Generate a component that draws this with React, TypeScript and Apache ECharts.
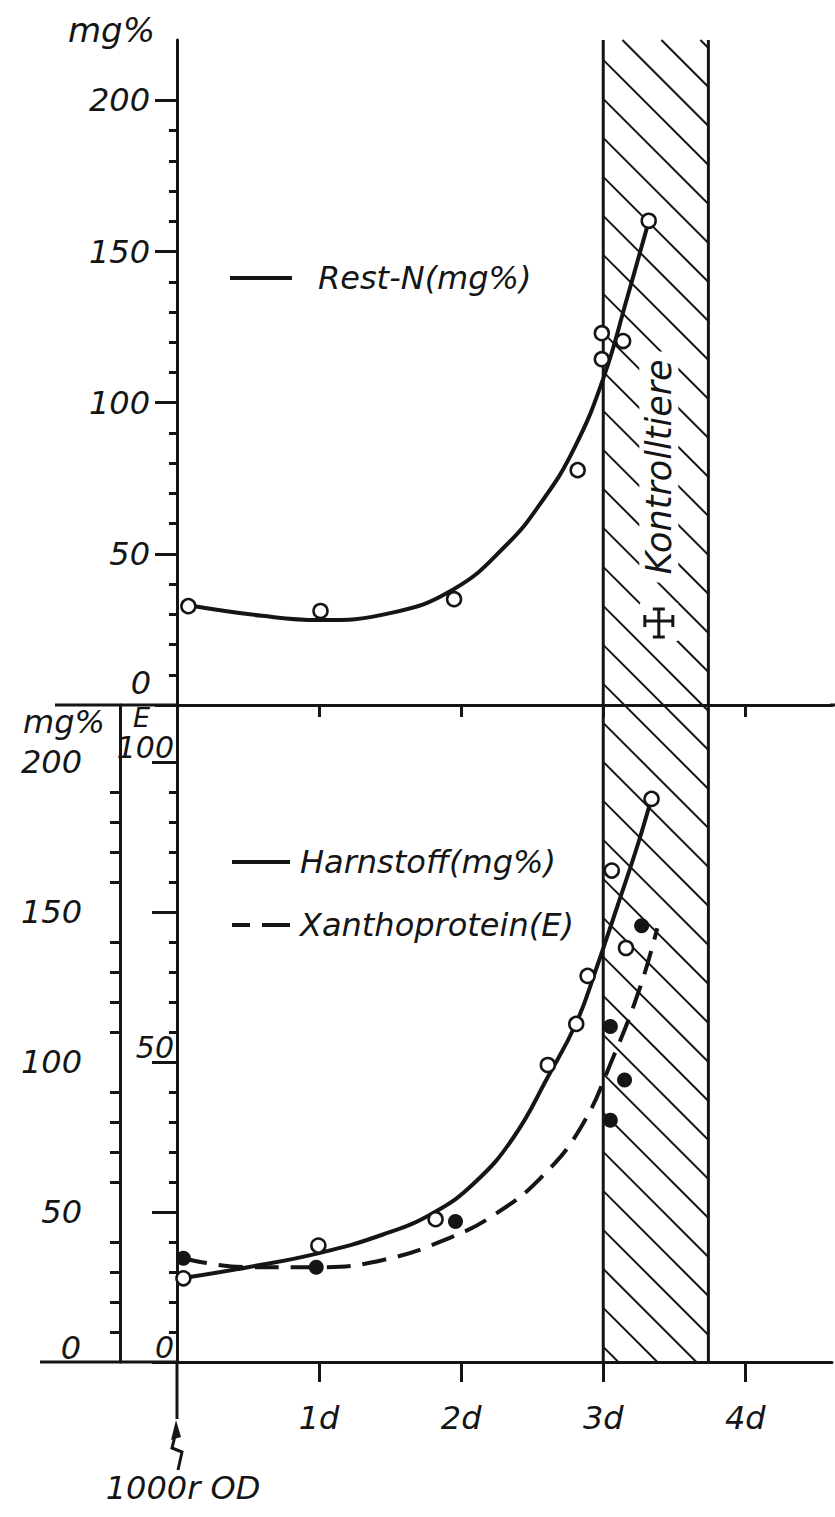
import React, { useEffect, useRef } from "react";
import * as echarts from "echarts";

// ---------- data ----------
const DAY_TICKS = [1, 2, 3, 4];
const MG_MAJOR = [0, 50, 100, 150, 200];
const MG_LABELS = [50, 100, 150, 200];
const ZERO_LABEL = "0";
const MG_MINOR = [10, 20, 30, 40, 60, 70, 80, 90, 110, 120, 130, 140, 160, 170, 180, 190];
const E_MAJOR = [0, 50, 100];
const E_MINOR = [5, 10, 15, 20, 25, 30, 35, 40, 45, 55, 60, 65, 70, 75, 80, 85, 90, 95];

// Rest-N (mg%) – measured points (open circles)
const restNPtsX = [0.08, 1.01, 1.95, 2.82, 2.99, 2.99, 3.14, 3.32];
const restNPtsY = [32.7, 31.1, 35, 77.7, 123, 114.4, 120.4, 160.2];
// Rest-N – drawn curve
const restNCurveX = [0.08, 0.6, 1.0, 1.5, 1.95, 2.32, 2.56, 2.79, 3.0, 3.17, 3.32];
const restNCurveY = [33, 29.5, 28.1, 30.4, 38.4, 53, 66.8, 84.4, 108, 135, 160];

// Harnstoff (mg%) – open circles
const harnPtsX = [0.045, 0.995, 1.82, 2.61, 2.81, 2.89, 3.06, 3.16, 3.34];
const harnPtsY = [27.9, 38.8, 47.6, 99, 112.7, 128.7, 163.8, 138, 187.7];
// Harnstoff – drawn curve
const harnCurveX = [0.045, 0.5, 1.0, 1.45, 1.8, 2.1, 2.37, 2.61, 2.81, 2.95, 3.1, 3.24, 3.34];
const harnCurveY = [28, 31.6, 36.3, 42.5, 49.6, 60, 75, 95, 113, 131, 152, 172, 188];

// Xanthoprotein (E) – filled circles
const xanPtsX = [0.045, 0.98, 1.96, 3.05, 3.27, 3.15, 3.05];
const xanPtsY = [17.3, 15.8, 23.4, 55.9, 72.7, 47, 40.3];
// Xanthoprotein – dashed curve
const xanCurveX = [0.045, 0.5, 1.0, 1.45, 1.92, 2.25, 2.56, 2.84, 3.07, 3.26, 3.38];
const xanCurveY = [17.3, 15.8, 15.8, 17.0, 20.7, 24.8, 30.7, 39, 50.8, 62.5, 72.3];

// control-animal band (days)
const HATCH_START = 3;
const HATCH_END = 3.74;

const X_MAX = 4.61;
const TOP_Y_MAX = 220;
const MG_Y_MAX = 219;
const E_Y_MAX = 109.5;

// ---------- style ----------
const INK = "#151515";
const FONT = "DejaVu Sans";
const txt = (size: number) => ({
  color: INK,
  fontFamily: FONT,
  fontStyle: "italic" as const,
  fontSize: size,
});

const pairs = (xs: number[], ys: number[]) => xs.map((x, i) => [x, ys[i]]);

function buildOption(): any {
  const axisLineStyle = { color: INK, width: 3 };
  const tickStyle = { color: INK, width: 3 };

  const xAxisBase = (gridIndex: number, tickLen: number, showLabels: boolean) => ({
    type: "value",
    gridIndex,
    min: 0,
    max: X_MAX,
    axisLine: { show: true, onZero: false, lineStyle: axisLineStyle },
    axisTick: { show: true, customValues: DAY_TICKS, length: tickLen, inside: false, lineStyle: tickStyle },
    axisLabel: showLabels
      ? { show: true, customValues: DAY_TICKS, formatter: (v: number) => `${v}d`, margin: 40, ...txt(32) }
      : { show: false },
    splitLine: { show: false },
  });

  const curve = (name: string, xi: number, yi: number, xs: number[], ys: number[], dashed: boolean) => ({
    name,
    type: "line",
    xAxisIndex: xi,
    yAxisIndex: yi,
    data: pairs(xs, ys),
    smooth: 0.45,
    showSymbol: false,
    symbol: "none",
    lineStyle: { color: INK, width: 4, type: dashed ? [24, 12] : "solid" },
    itemStyle: { color: INK },
    z: 3,
  });

  const dots = (name: string, xi: number, yi: number, xs: number[], ys: number[], filled: boolean) => ({
    name,
    type: "scatter",
    xAxisIndex: xi,
    yAxisIndex: yi,
    data: pairs(xs, ys),
    symbol: "circle",
    symbolSize: filled ? 15 : 14,
    itemStyle: filled
      ? { color: INK, opacity: 1 }
      : { color: "#ffffff", borderColor: INK, borderWidth: 2.5, opacity: 1 },
    z: 5,
  });

  return {
    animation: false,
    backgroundColor: "#ffffff",
    color: [INK],
    grid: [
      { left: 177, right: 3, top: 40, height: 665 },
      { left: 177, right: 3, top: 705, height: 657 },
    ],
    xAxis: [xAxisBase(0, 12, false), xAxisBase(1, 20, true)],
    yAxis: [
      // top panel: minor ticks + axis line + name
      {
        type: "value",
        gridIndex: 0,
        min: 0,
        max: TOP_Y_MAX,
        position: "left",
        name: "mg%",
        nameLocation: "end",
        nameGap: 10,
        nameTextStyle: { ...txt(34), align: "right", verticalAlign: "middle", padding: [0, 22, 0, 0] },
        axisLine: { show: true, onZero: false, lineStyle: axisLineStyle },
        axisTick: { show: true, customValues: MG_MINOR, length: 8, lineStyle: tickStyle },
        axisLabel: { show: false },
        splitLine: { show: false },
      },
      // top panel: major ticks + labels
      {
        type: "value",
        gridIndex: 0,
        min: 0,
        max: TOP_Y_MAX,
        position: "left",
        axisLine: { show: false },
        axisTick: { show: true, customValues: MG_MAJOR, length: 22, lineStyle: tickStyle },
        axisLabel: { show: true, customValues: MG_LABELS, margin: 27, ...txt(32) },
        splitLine: { show: false },
      },
      // bottom panel mg%: minor
      {
        type: "value",
        gridIndex: 1,
        min: 0,
        max: MG_Y_MAX,
        position: "left",
        offset: 57,
        name: "mg%",
        nameLocation: "end",
        nameGap: -17,
        nameTextStyle: { ...txt(32), align: "right", verticalAlign: "middle", padding: [0, 15, 0, 0] },
        axisLine: { show: true, onZero: false, lineStyle: axisLineStyle },
        axisTick: { show: true, customValues: MG_MINOR, length: 10, lineStyle: tickStyle },
        axisLabel: { show: false },
        splitLine: { show: false },
      },
      // bottom panel mg%: major
      {
        type: "value",
        gridIndex: 1,
        min: 0,
        max: MG_Y_MAX,
        position: "left",
        offset: 57,
        axisLine: { show: false },
        axisTick: { show: true, customValues: MG_MAJOR, length: 25, lineStyle: tickStyle },
        axisLabel: { show: true, customValues: MG_LABELS, margin: 38, ...txt(32) },
        splitLine: { show: false },
      },
      // bottom panel E: minor
      {
        type: "value",
        gridIndex: 1,
        min: 0,
        max: E_Y_MAX,
        position: "left",
        name: "E",
        nameLocation: "end",
        nameGap: -12,
        nameTextStyle: { ...txt(27), align: "right", verticalAlign: "middle", padding: [0, 27, 0, 0] },
        axisLine: { show: true, onZero: false, lineStyle: axisLineStyle },
        axisTick: { show: true, customValues: E_MINOR, length: 8, lineStyle: tickStyle },
        axisLabel: { show: false },
        splitLine: { show: false },
      },
      // bottom panel E: major
      {
        type: "value",
        gridIndex: 1,
        min: 0,
        max: E_Y_MAX,
        position: "left",
        axisLine: { show: false },
        axisTick: { show: true, customValues: E_MAJOR, length: 22, lineStyle: tickStyle },
        axisLabel: {
          show: true,
          customValues: E_MAJOR,
          margin: 3,
          verticalAlign: "bottom",
          ...txt(30),
        },
        splitLine: { show: false },
      },
    ],
    legend: [
      {
        data: [{ name: "Rest-N(mg%)", icon: "path://M0 0H62V4H0Z", itemStyle: { color: INK } }],
        left: 230,
        top: 262,
        padding: 0,
        itemWidth: 62,
        itemHeight: 4,
        selectedMode: false,
        textStyle: { ...txt(32), padding: [0, 0, 0, 21] },
      },
      {
        data: [
          { name: "Harnstoff(mg%)", icon: "path://M0 0H58V4H0Z", itemStyle: { color: INK } },
          { name: "Xanthoprotein(E)", icon: "path://M0 0H18V4H0Z M30 0H58V4H30Z", itemStyle: { color: INK } },
        ],
        orient: "vertical",
        left: 232,
        top: 846,
        padding: 0,
        itemGap: 31,
        itemWidth: 58,
        itemHeight: 4,
        selectedMode: false,
        textStyle: { ...txt(32), padding: [0, 0, 0, 5] },
      },
    ],
    series: [
      curve("Rest-N(mg%)", 0, 0, restNCurveX, restNCurveY, false),
      dots("Rest-N Messwerte", 0, 0, restNPtsX, restNPtsY, false),
      curve("Harnstoff(mg%)", 1, 2, harnCurveX, harnCurveY, false),
      dots("Harnstoff Messwerte", 1, 2, harnPtsX, harnPtsY, false),
      curve("Xanthoprotein(E)", 1, 4, xanCurveX, xanCurveY, true),
      dots("Xanthoprotein Messwerte", 1, 4, xanPtsX, xanPtsY, true),
    ],
  };
}

function buildGraphics(chart: any): any[] {
  const px = (v: number) => chart.convertToPixel({ xAxisIndex: 1 }, v) as number;
  const x0 = px(0);
  const x3 = px(HATCH_START);
  const xR = px(HATCH_END);
  const yTop = chart.convertToPixel({ yAxisIndex: 0 }, TOP_Y_MAX) as number;
  const yMid = chart.convertToPixel({ yAxisIndex: 0 }, 0) as number;
  const yBot = chart.convertToPixel({ yAxisIndex: 2 }, 0) as number;

  const line = (x1: number, y1: number, x2: number, y2: number, w = 3, z = 10) => ({
    type: "line",
    shape: { x1, y1, x2, y2 },
    style: { stroke: INK, lineWidth: w, lineCap: "butt" },
    z,
    silent: true,
  });

  const label = (text: string, x: number, y: number, size: number, align: string) => ({
    type: "text",
    x,
    y,
    z: 6,
    style: {
      text,
      fill: INK,
      font: `italic ${size}px '${FONT}'`,
      align,
      verticalAlign: "middle",
    },
  });

  const els: any[] = [];

  // hatch lines (45°, 39 px vertical spacing)
  const slope = 1;
  const step = 39;
  const w = xR - x3;
  for (let c = yTop - w * slope + 8; c < yBot; c += step) {
    const xa = Math.max(x3, x3 + (yTop - c) / slope);
    const xb = Math.min(xR, x3 + (yBot - c) / slope);
    if (xb - xa > 1) {
      els.push(line(xa, c + (xa - x3) * slope, xb, c + (xb - x3) * slope, 2, 1));
    }
  }

  // band borders
  els.push(line(x3, yTop, x3, yBot, 3, 2));
  els.push(line(xR, yTop, xR, yBot, 3, 2));

  // x-axis extensions
  els.push(line(55, yMid, x0, yMid, 3, 2));
  els.push(line(830, yMid, 835, yMid, 3, 2));
  els.push(line(40, yBot, x0, yBot, 3, 2));

  // zero labels of the mg% axes (set just above the baseline, as in the figure)
  els.push(label(ZERO_LABEL, 151, yMid - 22, 32, "right"));
  els.push(label(ZERO_LABEL, 81, yBot - 14, 32, "right"));

  // vertical label inside the band
  els.push({
    type: "text",
    x: (x3 + xR) / 2 + 3,
    y: yTop + 427,
    rotation: Math.PI / 2,
    z: 6,
    style: {
      text: "Kontrolltiere",
      fill: INK,
      font: `italic 35px '${FONT}'`,
      align: "center",
      verticalAlign: "middle",
      backgroundColor: "#ffffff",
      padding: [2, 8],
    },
  });

  // death cross
  const cx = (x3 + xR) / 2 + 3;
  const cy = yMid - 83;
  els.push({
    type: "rect",
    shape: { x: cx - 19, y: cy - 19, width: 38, height: 38 },
    style: { fill: "#ffffff" },
    z: 5,
  });
  els.push(line(cx, cy - 13, cx, cy + 15, 3, 7));
  els.push(line(cx - 14, cy - 1, cx + 14, cy - 1, 3, 7));
  els.push(line(cx - 6, cy - 13, cx + 6, cy - 13, 3, 7));
  els.push(line(cx - 6, cy + 15, cx + 6, cy + 15, 3, 7));
  els.push(line(cx - 14, cy - 7, cx - 14, cy + 5, 3, 7));
  els.push(line(cx + 14, cy - 7, cx + 14, cy + 5, 3, 7));

  // irradiation marker below the time origin
  els.push(line(x0, yBot, x0, yBot + 57, 3, 2));
  els.push({
    type: "polygon",
    shape: { points: [[x0 - 1, yBot + 58], [x0 - 6, yBot + 78], [x0 + 4, yBot + 75]] },
    style: { fill: INK },
    z: 2,
  });
  els.push({
    type: "polyline",
    shape: { points: [[x0 - 1, yBot + 70], [x0 - 5, yBot + 86], [x0 + 5, yBot + 90], [x0 + 1, yBot + 108]] },
    style: { stroke: INK, lineWidth: 3, fill: "none" },
    z: 2,
  });
  els.push(label("1000r OD", x0 + 6, yBot + 126, 32, "center"));

  return els;
}

export default function App() {
  const ref = useRef<HTMLDivElement>(null);
  useEffect(() => {
    if (!ref.current) return;
    const chart = echarts.init(ref.current, null, { renderer: "svg" });
    chart.setOption(buildOption());
    chart.setOption({ graphic: { elements: buildGraphics(chart) } });
    return () => chart.dispose();
  }, []);
  return (
    <div
      ref={ref}
      style={{ position: "absolute", left: 0, top: 0, width: 835, height: 1517, background: "#ffffff" }}
    />
  );
}
